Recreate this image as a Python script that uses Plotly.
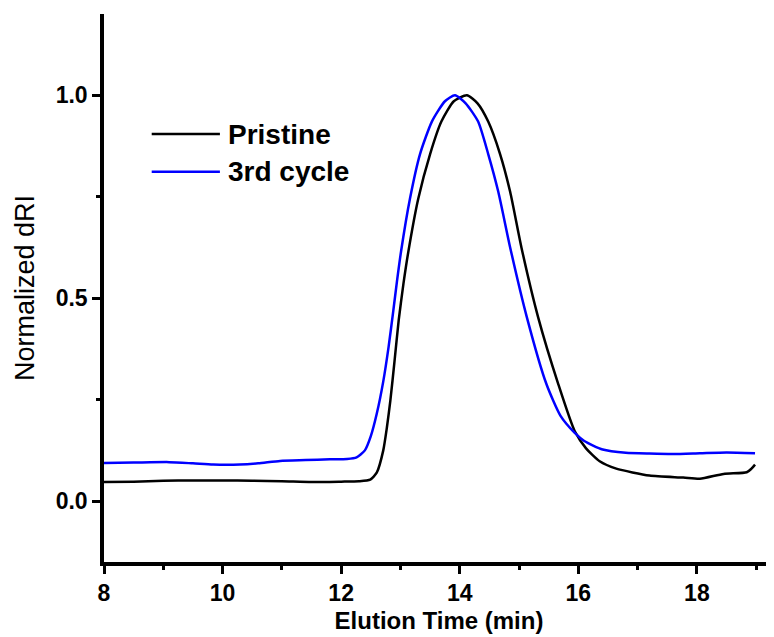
import plotly.graph_objects as go

# Elution time (min) and normalized dRI
pristine_x = [8.0, 8.5, 9.0, 9.5, 10.0, 10.5, 11.0, 11.5, 12.0, 12.3, 12.49, 12.6, 12.71,
              12.77, 12.83, 12.90, 12.97, 13.05, 13.13, 13.30, 13.50, 13.69, 13.90, 14.12,
              14.30, 14.48, 14.68, 14.85, 15.04, 15.32, 15.66, 15.94, 16.13, 16.36, 16.64,
              17.2, 17.77, 18.05, 18.45, 18.84, 18.92, 18.98]
pristine_y = [0.047, 0.048, 0.050, 0.051, 0.051, 0.050, 0.049, 0.047, 0.048, 0.049, 0.053,
              0.07, 0.125, 0.18, 0.248, 0.345, 0.445, 0.535, 0.612, 0.745, 0.855, 0.935,
              0.985, 1.0, 0.98, 0.935, 0.855, 0.762, 0.625, 0.454, 0.289, 0.172, 0.13,
              0.098, 0.08, 0.063, 0.058, 0.055, 0.067, 0.071, 0.08, 0.09]

cycle3_x = [8.0, 8.5, 9.1, 9.5, 9.84, 10.29, 10.6, 10.97, 11.4, 11.81, 12.1, 12.26, 12.40,
            12.50, 12.60, 12.71, 12.80, 12.88, 12.94, 13.01, 13.16, 13.33, 13.53, 13.75,
            13.92, 14.10, 14.31, 14.48, 14.65, 14.85, 15.13, 15.46, 15.70, 15.94, 16.10,
            16.41, 16.80, 17.20, 17.60, 18.05, 18.50, 18.98]
cycle3_y = [0.094, 0.095, 0.096, 0.093, 0.090, 0.090, 0.093, 0.099, 0.101, 0.103, 0.104,
            0.108, 0.125, 0.16, 0.215, 0.295, 0.38, 0.47, 0.54, 0.615, 0.745, 0.855,
            0.935, 0.985, 1.0, 0.98, 0.935, 0.855, 0.762, 0.625, 0.454, 0.289, 0.21, 0.168,
            0.148, 0.127, 0.119, 0.117, 0.116, 0.118, 0.12, 0.118]

series_names = ["Pristine", "3rd cycle"]
series_colors = ["#000000", "#0000ff"]

x_ticks = [8, 10, 12, 14, 16, 18]
y_ticks = [0.0, 0.5, 1.0]
y_tick_labels = ["0.0", "0.5", "1.0"]

FONT = "Liberation Sans, Arial, sans-serif"

fig = go.Figure()
fig.add_trace(go.Scatter(x=pristine_x, y=pristine_y, mode="lines", name=series_names[0],
                         line=dict(color=series_colors[0], width=2.5, shape="spline", smoothing=0.6)))
fig.add_trace(go.Scatter(x=cycle3_x, y=cycle3_y, mode="lines", name=series_names[1],
                         line=dict(color=series_colors[1], width=2.5, shape="spline", smoothing=0.6)))

fig.update_layout(
    width=766, height=629,
    margin=dict(l=96, r=0, t=6, b=75),
    paper_bgcolor="white", plot_bgcolor="white",
    showlegend=False,
    font=dict(family=FONT, color="black"),
)

fig.update_xaxes(
    range=[8, 19.3], tickvals=x_ticks, ticks="outside", ticklen=8, tickwidth=3,
    tickcolor="black", showline=True, linecolor="black", linewidth=3.5,
    showgrid=False, zeroline=False, automargin=False,
    tickfont=dict(family=FONT, size=23, color="black", weight="bold"),
    minor=dict(dtick=1, tick0=8, ticks="outside", ticklen=4, tickwidth=3, tickcolor="black", showgrid=False),
    title=dict(text="Elution Time (min)", standoff=8,
               font=dict(family=FONT, size=24, color="black", weight="bold")),
)
fig.update_yaxes(
    range=[-0.15, 1.2], tickvals=y_ticks, ticktext=y_tick_labels, ticks="outside",
    ticklen=8, tickwidth=3, tickcolor="black", showline=True, linecolor="black",
    linewidth=3.5, showgrid=False, zeroline=False, automargin=False,
    tickfont=dict(family=FONT, size=23, color="black", weight="bold"),
    minor=dict(dtick=0.25, tick0=0, ticks="outside", ticklen=4, tickwidth=3, tickcolor="black", showgrid=False),
    title=dict(text="Normalized dRI", standoff=14,
               font=dict(family=FONT, size=27, color="black")),
)

# Manual legend (long line samples as in the reference)
legend_rows = [(0.781, series_names[0], series_colors[0]), (0.712, series_names[1], series_colors[1])]
for yy, name, col in legend_rows:
    fig.add_shape(type="line", xref="paper", yref="paper", x0=0.0712, x1=0.173, y0=yy, y1=yy,
                  line=dict(color=col, width=2.5))
    fig.add_annotation(xref="paper", yref="paper", x=0.1825, y=yy, text=name, showarrow=False,
                       xanchor="left", yanchor="middle",
                       font=dict(family=FONT, size=28, color="black", weight="bold"))

fig.write_html("out.html")
